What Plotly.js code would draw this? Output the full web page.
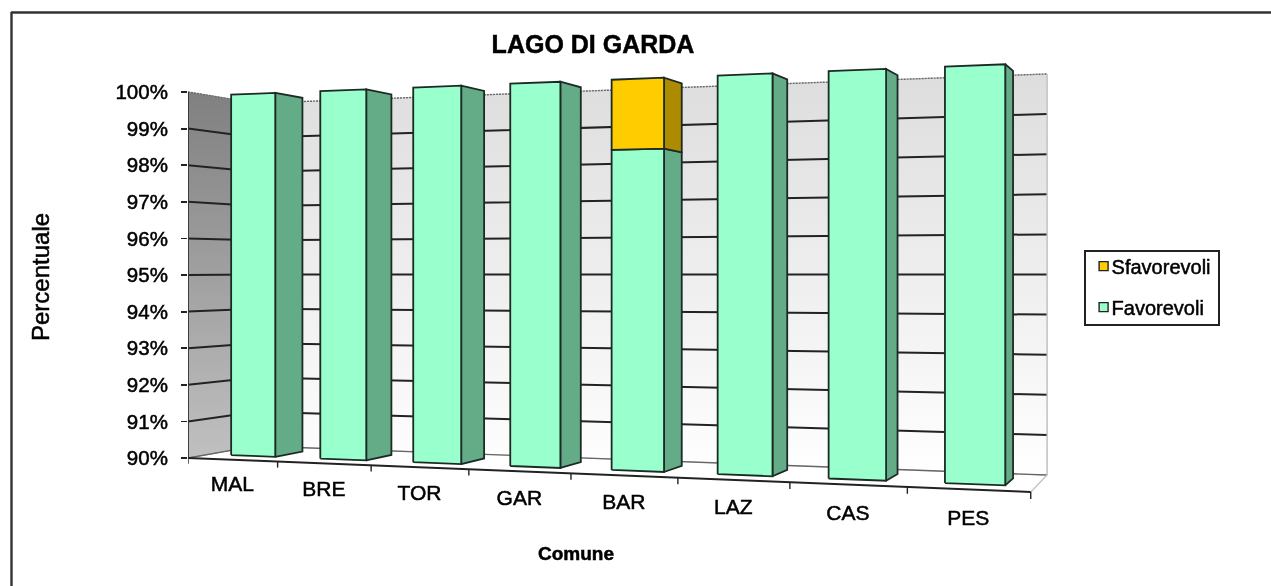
<!DOCTYPE html>
<html><head><meta charset="utf-8">
<script src="https://cdn.plot.ly/plotly-3.0.1.min.js"></script>
<style>html,body{margin:0;padding:0;background:#fff;overflow:hidden}#chart{width:1271px;height:586px;filter:blur(0.45px)}
#chart text{stroke:#000;stroke-width:0.5px}</style>
</head><body><div id="chart"></div>
<script>
// ---- data ----
var categories = ['MAL','BRE','TOR','GAR','BAR','LAZ','CAS','PES'];
var favorevoli = [100,100,100,100,98.2,100,100,100];
var sfavorevoli = [0,0,0,0,1.8,0,0,0];
var percentTicks = [90,91,92,93,94,95,96,97,98,99,100];
var percentLabels = ['90%','91%','92%','93%','94%','95%','96%','97%','98%','99%','100%'];
var BASE = 90, TOP = 100;

// ---- perspective of the 3-D plot box (cat X 0..1, depth Z 0..1, t 0..1) ----
var g=-0.167, h=0.069;
var pxPerPct = 36.6, floorLeft = 458;
function project(X,Z,pct){
  var w=1+g*X+h*Z, t=(pct-BASE)/(TOP-BASE);
  var sx=(188+670.6*X+85.9*Z)/w;
  var yb=(458-48.2*X+18.7*Z)/w, yt=(92-43.7*X+18.4*Z)/w;
  var sy=yb+(yt-yb)*t;
  return [sx, BASE+(floorLeft-sy)/pxPerPct];
}
function poly(points){ // list of [X,Z,pct]
  var xs=[],ys=[];
  points.forEach(function(p){ if(!p){xs.push(null);ys.push(null);return;}
    var q=project(p[0],p[1],p[2]); xs.push(q[0]); ys.push(q[1]);});
  return {x:xs,y:ys};
}
function lineTrace(points,color,width,dash){
  var p=poly(points);
  return {type:'scatter',mode:'lines',x:p.x,y:p.y,showlegend:false,hoverinfo:'skip',connectgaps:false,cliponaxis:false,
    line:{color:color,width:width,dash:dash||'solid'}};
}
function wall(points,cBottom,cTop,lineColor){
  var p=poly(points);
  return {type:'scatter',mode:'lines',x:p.x,y:p.y,fill:'toself',showlegend:false,hoverinfo:'skip',
    line:{color:lineColor,width:1},
    fillgradient:{type:'vertical',colorscale:[[0,cBottom],[1,cTop]]}};
}
var n=categories.length, z1=0.30, z2=0.72, barW=0.5;
function xl(i){return (i+0.5-barW/2)/n;}
function xr(i){return (i+0.5+barW/2)/n;}

function faces(lo,hi,front,side,name){
  var f=[],s=[];
  for(var i=0;i<n;i++){
    if(hi[i]<=lo[i]) continue;
    f.push([xl(i),z1,lo[i]],[xr(i),z1,lo[i]],[xr(i),z1,hi[i]],[xl(i),z1,hi[i]],[xl(i),z1,lo[i]],null);
    s.push([xr(i),z1,lo[i]],[xr(i),z2,lo[i]],[xr(i),z2,hi[i]],[xr(i),z1,hi[i]],[xr(i),z1,lo[i]],null);
  }
  var pf=poly(f),ps=poly(s), edge={color:'#1c2a24',width:1.8};
  return [
   {type:'scatter',mode:'lines',x:ps.x,y:ps.y,fill:'toself',fillcolor:side,line:edge,showlegend:false,hoverinfo:'skip'},
   {type:'scatter',mode:'lines',x:pf.x,y:pf.y,fill:'toself',fillcolor:front,line:edge,showlegend:false,name:name,hoverinfo:'skip'}
  ];
}

var traces=[];
// walls
traces.push(wall([[0,0,BASE],[0,1,BASE],[0,1,TOP],[0,0,TOP],[0,0,BASE]],'#c0c0c0','#808080','#9a9a9a'));
traces.push(wall([[0,1,BASE],[1,1,BASE],[1,1,TOP],[0,1,TOP],[0,1,BASE]],'#ffffff','#dddddd','#d8d8d8'));
// gridlines
percentTicks.forEach(function(v){
  var edgeLine=(v===BASE||v===TOP);
  traces.push(lineTrace([[0,0,v],[0,1,v],[1,1,v]],edgeLine?'#666666':'#222222',edgeLine?1.4:2,edgeLine&&v===TOP?'2px,1px':null));
});
// floor and box edges
traces.push(lineTrace([[1,0,BASE],[1,1,BASE],[1,1,TOP]],'#c4c4c4',1.4));
traces.push(lineTrace([[0,0,BASE],[0,0,TOP]],'#333333',1.8));
traces.push(lineTrace([[0,0,BASE],[1,0,BASE]],'#222222',2));
// x ticks
var tk=[];
for(var i=0;i<=n;i++){tk.push([i/n,0,BASE],[i/n,0,BASE-0.16],null);}
traces.push(lineTrace(tk,'#222222',1.4));
// bars
var zero=favorevoli.map(function(){return BASE;});
var sTop=favorevoli.map(function(v,i){return v+sfavorevoli[i];});
traces=traces.concat(faces(zero,favorevoli,'#99FFCC','#64AB88','Favorevoli'));
traces=traces.concat(faces(favorevoli,sTop,'#FFCC00','#AD8B00','Sfavorevoli'));
// category labels
var lab=categories.map(function(c,i){return project((i+0.5)/n,0,BASE-26/pxPerPct);});
traces.push({type:'scatter',mode:'text',cliponaxis:false,x:lab.map(function(p){return p[0];}),y:lab.map(function(p){return p[1];}),
  text:categories,textposition:'middle center',textfont:{family:'Liberation Sans',size:21,color:'#000'},showlegend:false,hoverinfo:'skip'});
// legend entries
traces.push({type:'scatter',mode:'markers',x:[null],y:[null],name:'Sfavorevoli',legendgroup:'a',
  marker:{symbol:'square',size:9,color:'#FFCC00',line:{color:'#222',width:1.4}}});
traces.push({type:'scatter',mode:'markers',x:[null],y:[null],name:'Favorevoli',legendgroup:'b',
  marker:{symbol:'square',size:9,color:'#99FFCC',line:{color:'#222',width:1.4}}});

var plotL=188, plotR=1060, plotT=40, plotB=560;
function px(x){return (x-plotL)/(plotR-plotL);}
function py(y){return 1-(y-plotT)/(plotB-plotT);}
var frame={color:'#333',width:2.4};
var layout={
  width:1271,height:586,paper_bgcolor:'#fff',plot_bgcolor:'rgba(0,0,0,0)',
  margin:{l:plotL,r:1271-plotR,t:plotT,b:586-plotB,pad:0},
  font:{family:'Liberation Sans',color:'#000',size:20},
  title:{text:'<b>LAGO DI GARDA</b>',font:{size:25,family:'Liberation Sans'},x:593/1271,xanchor:'center',y:1-44/586,yanchor:'middle'},
  xaxis:{range:[plotL,plotR],showgrid:false,zeroline:false,showticklabels:false,ticks:'',showline:false,fixedrange:true},
  yaxis:{range:[BASE+(floorLeft-plotB)/pxPerPct,BASE+(floorLeft-plotT)/pxPerPct],
    tickmode:'array',tickvals:percentTicks,ticktext:percentLabels,ticks:'outside',ticklen:6,tickwidth:1.8,tickcolor:'#222',
    showgrid:false,zeroline:false,showline:false,ticklabelstandoff:9,tickfont:{size:20.5},fixedrange:true},
  legend:{x:px(1082),xanchor:'left',y:py(245),yanchor:'top',xref:'paper',yref:'paper',
    bgcolor:'#fff',bordercolor:'#222',borderwidth:1.6,font:{size:20},traceorder:'grouped',tracegroupgap:12,itemclick:false,itemdoubleclick:false},
  shapes:[
    {type:'line',xref:'paper',yref:'paper',x0:px(11),x1:px(1271),y0:py(12.5),y1:py(12.5),line:frame},
    {type:'line',xref:'paper',yref:'paper',x0:px(11.5),x1:px(11.5),y0:py(12),y1:py(586),line:frame}
  ],
  annotations:[
   {xref:'paper',yref:'paper',x:px(40),y:py(277),xanchor:'center',yanchor:'middle',text:'Percentuale',textangle:-90,showarrow:false,font:{size:24}},
   {xref:'paper',yref:'paper',x:px(576),y:py(553),xanchor:'center',yanchor:'middle',text:'<b>Comune</b>',showarrow:false,font:{size:19}}
  ]
};
Plotly.newPlot('chart',traces,layout,{displayModeBar:false,staticPlot:true}).then(function(gd){
  // tighten the legend to the reference's compact box
  var bg=gd.querySelector('.legend .bg');
  if(bg){bg.setAttribute('x',3);bg.setAttribute('y',6);bg.setAttribute('width',134);bg.setAttribute('height',74);}
  gd.querySelectorAll('.legend .legendtext').forEach(function(t){t.setAttribute('x',28);});
});
</script></body></html>
